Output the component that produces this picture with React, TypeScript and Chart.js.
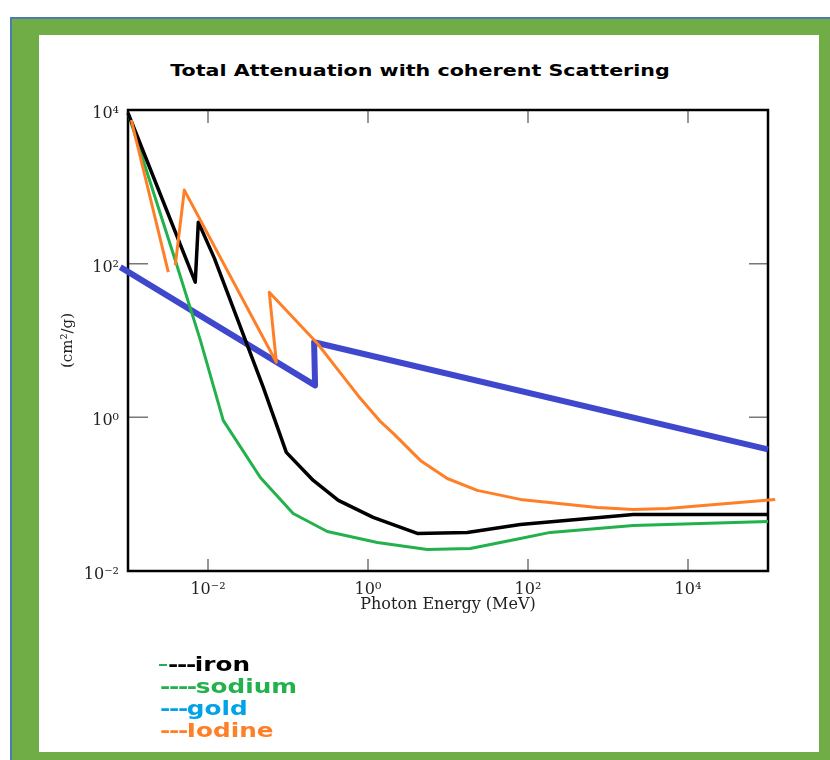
import React, { useEffect, useRef } from "react";
import { Chart, registerables } from "chart.js";

Chart.register(...registerables);

// ---- data (photon energy in MeV, mass attenuation in cm²/g) ----
const energyIron = [0.001, 0.00693, 0.00757, 0.012, 0.0491, 0.0953, 0.207, 0.426, 1.16, 4.13, 17.4, 80.2, 2070, 100000];
const muIron = [9140, 57.4, 347, 118, 2.46, 0.35, 0.151, 0.083, 0.0498, 0.0308, 0.0318, 0.0404, 0.0545, 0.0545];

const energySodium = [0.001, 0.0039, 0.00802, 0.0155, 0.0451, 0.116, 0.31, 1.31, 5.51, 19.0, 80.2, 190, 2070, 100000];
const muSodium = [9140, 111, 10.1, 0.914, 0.165, 0.0561, 0.0327, 0.0235, 0.0191, 0.0196, 0.0265, 0.0318, 0.0392, 0.0442];

const energyGold = [0.000802, 0.218, 0.212, 100000];
const muGold = [90, 2.61, 9.49, 0.383];

const energyIodine = [0.0011, 0.00319, 0.0035, 0.0039, 0.00506, 0.0715, 0.0583, 0.232, 0.41, 0.757, 1.4, 2.07, 4.51, 9.79, 23.2, 80.2, 735, 2070, 5510, 123000];
const muIodine = [7410, 77.5, null, 95.6, 907, 5.21, 42.5, 9.21, 4.3, 1.9, 0.9, 0.619, 0.275, 0.16, 0.112, 0.0855, 0.0671, 0.0632, 0.0652, 0.0855];

const xTickValues = [1e-2, 1, 1e2, 1e4];
const xTickLabels = ["10⁻²", "10⁰", "10²", "10⁴"];
const yTickValues = [1e-2, 1, 1e2, 1e4];
const yTickLabels = ["10⁻²", "10⁰", "10²", "10⁴"];

const titleText = "Total Attenuation with coherent Scattering";
const xTitle = "Photon Energy (MeV)";
const yTitle = "(cm²/g)";

const seriesNames = ["iron", "sodium", "gold", "Iodine"];
const seriesColors = ["#000000", "#22b14c", "#3f48cc", "#ff7f27"];
const legendColors = ["#000000", "#22b14c", "#00a2e8", "#ff7f27"];
const legendDashes = ["---", "----", "---", "---"];

function pts(xs: number[], ys: (number | null)[]) {
  return xs.map((x, i) => ({ x, y: ys[i] }));
}

const frameTicksPlugin = {
  id: "frameTicks",
  beforeDatasetsDraw(chart: any) {
    const { ctx, chartArea, scales } = chart;
    const { left, right, top, bottom } = chartArea;
    const xs = scales.x;
    const ys = scales.y;
    ctx.save();
    ctx.strokeStyle = "#777";
    ctx.lineWidth = 1.5;
    ctx.beginPath();
    for (const v of xTickValues) {
      const px = xs.getPixelForValue(v);
      ctx.moveTo(px, top);
      ctx.lineTo(px, top + 13);
      ctx.moveTo(px, bottom);
      ctx.lineTo(px, bottom - 12);
    }
    for (const v of yTickValues) {
      const py = ys.getPixelForValue(v);
      ctx.moveTo(left, py);
      ctx.lineTo(left + 20, py);
      ctx.moveTo(right, py);
      ctx.lineTo(right - 19, py);
    }
    ctx.stroke();
    ctx.strokeStyle = "#000";
    ctx.lineWidth = 2.5;
    ctx.strokeRect(left, top, right - left, bottom - top);
    ctx.restore();
  },
};

export default function App() {
  const ref = useRef<HTMLCanvasElement>(null);

  useEffect(() => {
    if (!ref.current) return;
    const mk = (i: number, data: any[], width: number, order: number) => ({
      label: seriesNames[i],
      data,
      borderColor: seriesColors[i],
      backgroundColor: seriesColors[i],
      borderWidth: width,
      pointRadius: 0,
      tension: 0,
      fill: false,
      spanGaps: false,
      clip: false,
      borderJoinStyle: "round",
      order,
    });
    const chart = new Chart(ref.current, {
      type: "line",
      data: {
        datasets: [
          mk(0, pts(energyIron, muIron), 3.5, 2),
          mk(1, pts(energySodium, muSodium), 3, 3),
          mk(2, pts(energyGold, muGold), 6, 4),
          mk(3, pts(energyIodine, muIodine), 3, 1),
        ] as any,
      },
      options: {
        animation: false,
        responsive: false,
        layout: { padding: { left: 0, right: 62, top: 110, bottom: 139 } },
        plugins: {
          legend: { display: false },
          tooltip: { enabled: false },
          title: { display: false },
        },
        scales: {
          x: {
            type: "logarithmic",
            min: 1e-3,
            max: 1e5,
            afterBuildTicks: (s: any) => {
              s.ticks = xTickValues.map((v) => ({ value: v }));
            },
            afterFit: (s: any) => {
              s.height = 50;
            },
            grid: { display: false, drawTicks: false },
            border: { display: false },
            ticks: {
              autoSkip: false,
              maxRotation: 0,
              padding: 9,
              color: "#222",
              font: { family: "DejaVu Serif", size: 16 },
              callback: (_v: any, i: number) => xTickLabels[i],
            },
            title: {
              display: true,
              text: xTitle,
              color: "#222",
              font: { family: "DejaVu Serif", size: 16 },
              padding: { top: 0, bottom: 7 },
            },
          },
          y: {
            type: "logarithmic",
            min: 1e-2,
            max: 1e4,
            afterBuildTicks: (s: any) => {
              s.ticks = yTickValues.map((v) => ({ value: v }));
            },
            afterFit: (s: any) => {
              s.width = 128;
            },
            grid: { display: false, drawTicks: false },
            border: { display: false },
            ticks: {
              autoSkip: false,
              padding: 9,
              labelOffset: 4,
              color: "#222",
              font: { family: "DejaVu Serif", size: 16 },
              callback: (_v: any, i: number) => yTickLabels[i],
            },
            title: {
              display: true,
              text: yTitle,
              color: "#222",
              font: { family: "DejaVu Serif", size: 15 },
              padding: { top: 59, bottom: 0 },
            },
          },
        },
      } as any,
      plugins: [frameTicksPlugin],
    });
    return () => chart.destroy();
  }, []);

  const legendTops = [653, 675, 697, 719];

  return (
    <div style={{ position: "absolute", left: 0, top: 0, width: 830, height: 760, overflow: "hidden", background: "#fff" }}>
      <div style={{ position: "absolute", left: 10, top: 17, width: 830, height: 760, background: "#4e7bb0" }} />
      <div style={{ position: "absolute", left: 12, top: 19, width: 830, height: 760, background: "#70ad47" }} />
      <div style={{ position: "absolute", left: 39, top: 35, width: 780, height: 717, background: "#fff" }} />
      <div
        style={{
          position: "absolute",
          left: 0,
          top: 60,
          width: 840,
          lineHeight: "22px",
          textAlign: "center",
          fontFamily: "'DejaVu Sans', sans-serif",
          fontWeight: "bold",
          fontSize: 16.5,
          color: "#000",
          transform: "scaleX(1.25)",
          whiteSpace: "nowrap",
        }}
      >
        {titleText}
      </div>
      <canvas ref={ref} width={830} height={760} style={{ position: "absolute", left: 0, top: 0, width: 830, height: 760 }} />
      <div style={{ position: "absolute", left: 159, top: 664, width: 8, height: 1.5, background: "#22b14c" }} />
      {seriesNames.map((name, i) => (
        <div
          key={name}
          style={{
            position: "absolute",
            left: i === 0 ? 168 : 160,
            top: legendTops[i],
            lineHeight: "22px",
            fontFamily: "'DejaVu Sans', sans-serif",
            fontWeight: "bold",
            fontSize: 19,
            color: legendColors[i],
            transform: "scaleX(1.3)",
            transformOrigin: "0 50%",
            whiteSpace: "nowrap",
          }}
        >
          <span style={{ letterSpacing: "-1px" }}>{legendDashes[i]}</span>
          {name}
        </div>
      ))}
    </div>
  );
}
